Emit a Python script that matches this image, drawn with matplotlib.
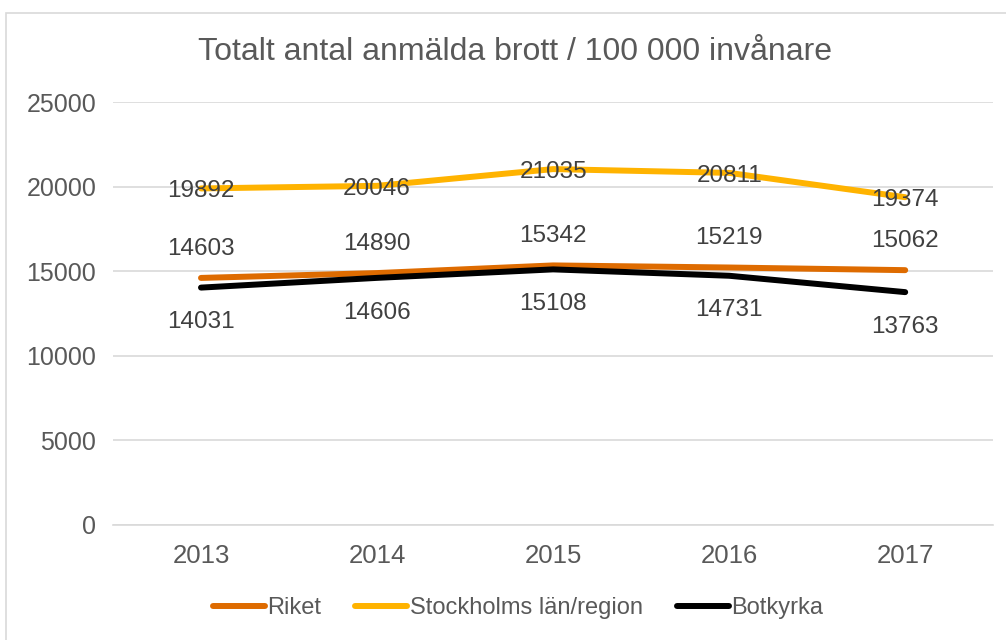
import matplotlib.pyplot as plt
from matplotlib.patches import Rectangle

plt.rcParams['font.family'] = ['Liberation Sans', 'DejaVu Sans']

years = ['2013', '2014', '2015', '2016', '2017']
riket = [14603, 14890, 15342, 15219, 15062]
stockholm = [19892, 20046, 21035, 20811, 19374]
botkyrka = [14031, 14606, 15108, 14731, 13763]

textColor = '#595959'
labelColor = '#404040'

fig = plt.figure(figsize=(10.06, 6.4), dpi=100)
fig.patches.append(Rectangle((0.006, -0.01), 1.0, 0.99, transform=fig.transFigure,
                             fill=False, edgecolor='#d9d9d9', linewidth=1.2))
ax = fig.add_axes([0.1123, 0.1797, 0.875, 0.6609])

x = list(range(len(years)))
ax.plot(x, riket, color='#DE6B00', linewidth=4.3, solid_capstyle='round', label='Riket', zorder=3)
ax.plot(x, stockholm, color='#FFB300', linewidth=4.3, solid_capstyle='round',
        label='Stockholms län/region', zorder=3)
ax.plot(x, botkyrka, color='black', linewidth=4.3, solid_capstyle='round', label='Botkyrka', zorder=3)

# data labels: Riket above, Stockholm on the line, Botkyrka below
for xi, v in zip(x, riket):
    ax.annotate(str(v), (xi, v), xytext=(0, 21), textcoords='offset points',
                ha='center', va='center', fontsize=17.5, color=labelColor, zorder=4)
for xi, v in zip(x, stockholm):
    ax.annotate(str(v), (xi, v), xytext=(0, -2), textcoords='offset points',
                ha='center', va='center', fontsize=17.5, color=labelColor, zorder=4)
for xi, v in zip(x, botkyrka):
    ax.annotate(str(v), (xi, v), xytext=(0, -25), textcoords='offset points',
                ha='center', va='center', fontsize=17.5, color=labelColor, zorder=4)

ax.set_xlim(-0.5, len(years) - 0.5)
ax.set_ylim(0, 25000)
ax.set_yticks(range(0, 25001, 5000))
ax.set_xticks(x)
ax.set_xticklabels(years)
ax.tick_params(axis='y', length=0, labelsize=18, colors=textColor, pad=12)
ax.tick_params(axis='x', length=0, labelsize=18.5, colors=textColor, pad=14)
ax.grid(axis='y', color='#d9d9d9', linewidth=1.2)
ax.set_axisbelow(True)
for side in ['top', 'right', 'left']:
    ax.spines[side].set_visible(False)
ax.spines['bottom'].set_color('#d9d9d9')
ax.spines['bottom'].set_linewidth(1.2)

fig.text(0.512, 0.918, 'Totalt antal anmälda brott / 100 000 invånare',
         ha='center', va='center', fontsize=23, color=textColor)

leg = fig.legend(loc='center', bbox_to_anchor=(0.515, 0.05), ncol=3, frameon=False,
                 fontsize=17, handlelength=2.2, handletextpad=0.1, columnspacing=1.45)
for t in leg.get_texts():
    t.set_color(textColor)

plt.savefig('out.png', dpi=100)
